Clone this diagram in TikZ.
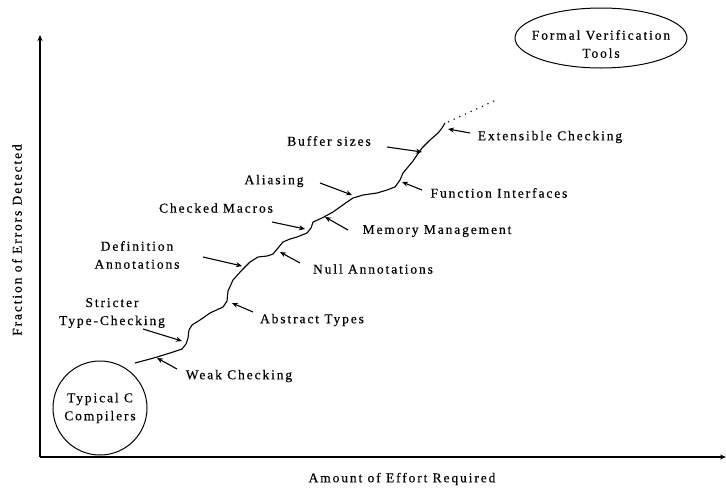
\documentclass[tikz,border=0pt]{standalone}
\usepackage{fontspec}
\setmainfont{Liberation Serif}[LetterSpace=14,FakeBold=0.4]
\usetikzlibrary{arrows.meta,shapes.geometric}

\begin{document}
\begin{tikzpicture}[x=1pt,y=-1pt,
  lbl/.style={font=\fontsize{13.5}{18}\selectfont, inner sep=0pt, align=center},
  axis/.style={line width=1.3pt, -{Stealth[length=6pt,width=5pt]}},
  pointer/.style={line width=1.1pt, -{Stealth[length=6pt,width=5pt]}},
  trend/.style={line width=1.1pt, line join=round},
  outline/.style={draw, line width=1pt}]
\useasboundingbox (0,0) rectangle (726,488);

% axes
\coordinate (origin) at (40,457);
\coordinate (ytop) at (40,35);
\coordinate (xend) at (726,457);
\draw[axis] (origin) -- (ytop);
\draw[axis] (origin) -- (xend);
\node[lbl, rotate=90] (ylab) at (17,240) {Fraction of Errors Detected};
\node[lbl] (xlab) at (402,479) {Amount of Effort Required};

% start and goal
\node[outline, circle, minimum size=94pt, lbl] (cc) at (100,408) {Typical C\\Compilers};
\node[outline, ellipse, minimum width=172pt, minimum height=60pt] (fv) at (601,38) {};
\node[lbl] (fvt) at (601,44) {Formal Verification\\Tools};

% the rising path of checking techniques
\draw[trend] (135,363) -- (150,359) -- (157,357) -- (170,353) -- (182,349)
  -- (186,344) -- (188,338) -- (189,330) -- (192,325) -- (200,320)
  -- (210,313) -- (223,307) -- (227,301) -- (228,291) -- (233,280)
  -- (242,270) -- (250,262) -- (258,257) -- (267,256) -- (273,254)
  -- (278,248) -- (283,242) -- (290,239) -- (297,237) -- (307,233)
  -- (311,228) -- (313,222) -- (322,218) -- (333,212) -- (340,207)
  -- (347,202) -- (353,198) -- (363,195) -- (377,193) -- (387,190)
  -- (395,187) -- (400,180) -- (403,173) -- (408,167) -- (413,161)
  -- (417,155) -- (422,148) -- (430,140) -- (438,133) -- (442,128)
  -- (445,123);
\coordinate (dotA) at (448,122);
\coordinate (dotB) at (496,100);
\draw[line width=1.1pt, dash pattern=on 1.2pt off 5pt] (dotA) -- (dotB);

% labels
\node[lbl] (weak) at (239,376) {Weak Checking};
\node[lbl] (strict) at (112,313) {Stricter\\Type-Checking};
\node[lbl] (abst) at (312,320) {Abstract Types};
\node[lbl] (defn) at (137,255) {Definition\\Annotations};
\node[lbl] (null) at (373,269) {Null Annotations};
\node[lbl] (macro) at (216,208) {Checked Macros};
\node[lbl] (mem) at (437,231) {Memory Management};
\node[lbl] (alias) at (274,181) {Aliasing};
\node[lbl] (func) at (499,193) {Function Interfaces};
\node[lbl] (buf) at (329,141) {Buffer sizes};
\node[lbl] (ext) at (550,137) {Extensible Checking};

% pointer ends
\coordinate (weakT) at (177,369);   \coordinate (weakH) at (157,358);
\coordinate (strictT) at (143,329); \coordinate (strictH) at (182,341);
\coordinate (abstT) at (253,312);   \coordinate (abstH) at (232,303);
\coordinate (defnT) at (203,257);   \coordinate (defnH) at (242,266);
\coordinate (nullT) at (300,263);   \coordinate (nullH) at (280,252);
\coordinate (macroT) at (272,222);  \coordinate (macroH) at (305,229);
\coordinate (memT) at (348,230);    \coordinate (memH) at (325,217);
\coordinate (aliasT) at (320,183);  \coordinate (aliasH) at (352,195);
\coordinate (funcT) at (422,190);   \coordinate (funcH) at (402,182);
\coordinate (bufT) at (387,147);    \coordinate (bufH) at (422,152);
\coordinate (extT) at (470,133);    \coordinate (extH) at (448,129);

\foreach \p in {weak,strict,abst,defn,null,macro,mem,alias,func,buf,ext}
  \draw[pointer] (\p T) -- (\p H);
\end{tikzpicture}
\end{document}
